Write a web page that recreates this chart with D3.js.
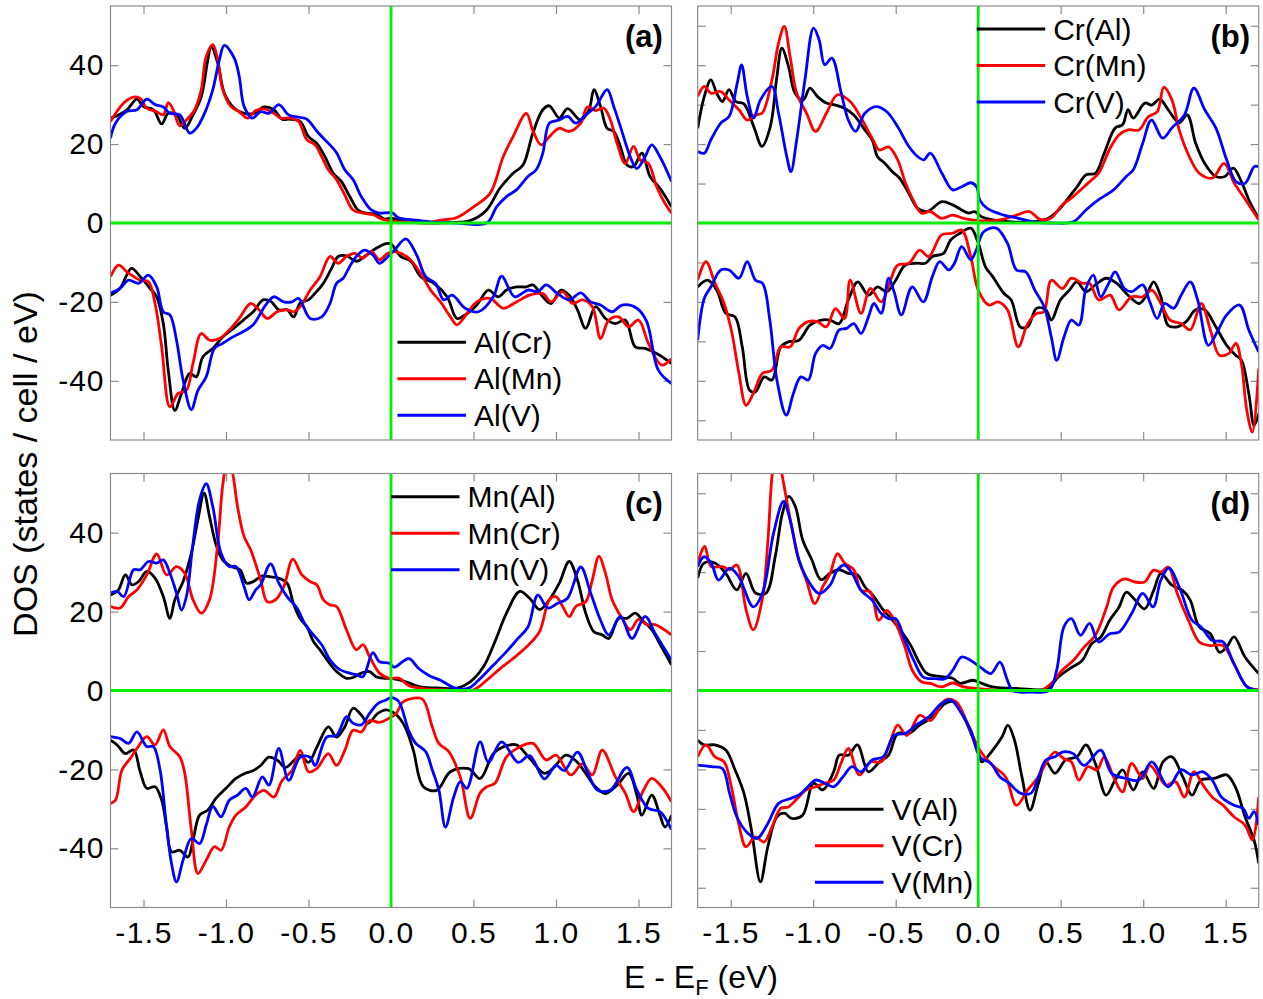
<!DOCTYPE html>
<html>
<head>
<meta charset="utf-8">
<script src="https://cdn.jsdelivr.net/npm/d3@7"></script>
<style>
  body { margin: 0; background: #fff; }
  svg { display: block; font-family: "Liberation Sans", Arial, sans-serif; }
</style>
</head>
<body>
<svg id="chart" width="1263" height="999"></svg>
<script>
"use strict";

// ---- data: [E - E_F (eV), DOS] ----

// (a) Al site
const alCrUp = [[-1.7,26.6],[-1.67,27],[-1.6,28.7],[-1.54,31.4],[-1.5,29.5],[-1.44,28.7],[-1.39,25.1],[-1.35,27.8],[-1.3,27.4],[-1.25,24],[-1.2,27.4],[-1.15,32],[-1.11,41.4],[-1.09,44.8],[-1.05,40.5],[-1.01,32.9],[-0.95,29.1],[-0.89,27.8],[-0.83,27.8],[-0.77,29.4],[-0.71,28.7],[-0.66,26.3],[-0.61,26.3],[-0.55,25.7],[-0.5,21.9],[-0.45,20.2],[-0.4,16.8],[-0.35,12.6],[-0.3,10.5],[-0.25,6.7],[-0.2,3.3],[-0.15,2.5],[-0.09,2.2],[-0.04,1],[0,1.2],[0.06,0.6],[0.135,0.3],[0.24,0],[0.36,0.1],[0.48,0.6],[0.58,3.3],[0.66,8.8],[0.74,12.6],[0.8,14.7],[0.86,22.8],[0.92,28.7],[0.96,29.7],[1.02,26.6],[1.07,29],[1.15,26.1],[1.2,28.7],[1.23,33.8],[1.27,29.5],[1.31,24],[1.35,23.2],[1.39,19.4],[1.43,14.7],[1.47,14.3],[1.52,17.7],[1.57,11.8],[1.63,8.8],[1.7,4.1]];
const alMnUp = [[-1.7,25.7],[-1.62,30.4],[-1.56,31.9],[-1.52,31.6],[-1.48,29.1],[-1.42,28.2],[-1.38,27.4],[-1.35,30.5],[-1.32,28.7],[-1.28,24.6],[-1.24,26.1],[-1.19,28.7],[-1.15,33.8],[-1.12,42.2],[-1.08,45.2],[-1.05,41.4],[-1.02,33.8],[-0.97,29.5],[-0.92,28.2],[-0.87,26.6],[-0.82,28.5],[-0.77,28.9],[-0.71,27.8],[-0.67,26.6],[-0.61,26.6],[-0.56,25.7],[-0.51,21.1],[-0.46,19.8],[-0.42,16.8],[-0.38,13.5],[-0.33,11],[-0.28,7.1],[-0.23,3.3],[-0.17,2.5],[-0.11,2.1],[-0.05,0.9],[0,0.5],[0.1,0.2],[0.2,0],[0.3,0.7],[0.4,1.4],[0.5,4.1],[0.6,7.5],[0.68,16.8],[0.74,21.9],[0.82,27.8],[0.86,23.4],[0.91,19.8],[0.96,21.9],[1.02,24],[1.08,23.2],[1.15,25.3],[1.19,29.4],[1.24,28.5],[1.29,29.1],[1.33,26.1],[1.37,20.2],[1.42,15.1],[1.47,19.4],[1.51,16],[1.56,15.1],[1.61,9.2],[1.66,5],[1.7,2.5]];
const alVUp = [[-1.7,21.5],[-1.67,25.3],[-1.6,28.3],[-1.54,28.7],[-1.48,31.4],[-1.43,30],[-1.38,29.4],[-1.34,27.8],[-1.28,27.4],[-1.22,22.8],[-1.18,24],[-1.13,27.8],[-1.08,33.8],[-1.04,41.4],[-1.01,45],[-0.95,41.8],[-0.92,37.2],[-0.89,29.5],[-0.84,26.6],[-0.79,28.2],[-0.74,27.8],[-0.68,30],[-0.62,27.4],[-0.56,26.8],[-0.51,26.3],[-0.44,22.8],[-0.37,19.8],[-0.33,17.8],[-0.28,13.5],[-0.23,11],[-0.18,6.7],[-0.12,3.3],[-0.07,2.5],[-0.02,2.6],[0.01,2.5],[0.045,1.3],[0.13,0.8],[0.24,0.3],[0.4,0],[0.58,0],[0.64,4.1],[0.7,6.7],[0.76,8.4],[0.83,11.8],[0.88,13.5],[0.92,17.7],[0.96,25.3],[1.02,26.1],[1.07,27],[1.12,25.3],[1.18,27.4],[1.24,29.5],[1.31,33.8],[1.35,29.5],[1.39,24.5],[1.45,16.8],[1.49,13.8],[1.54,16.8],[1.58,19.8],[1.63,16.8],[1.7,10.5]];
const alCrDn = [[-1.7,-18.3],[-1.643,-16.6],[-1.573,-11.5],[-1.52,-13.6],[-1.46,-16.6],[-1.42,-18.7],[-1.38,-25.5],[-1.35,-37.3],[-1.31,-47.5],[-1.27,-43.2],[-1.22,-38.1],[-1.18,-39],[-1.14,-33.9],[-1.08,-31.8],[-1.02,-28.9],[-0.955,-26.7],[-0.895,-24.6],[-0.835,-22.5],[-0.775,-19.5],[-0.73,-19.8],[-0.68,-22],[-0.63,-22],[-0.59,-23.8],[-0.55,-20.2],[-0.5,-19.5],[-0.46,-17.8],[-0.41,-15.3],[-0.36,-11.5],[-0.32,-8.5],[-0.27,-8.3],[-0.21,-9.7],[-0.16,-8.5],[-0.09,-6.4],[-0.03,-5.2],[0,-5.3],[0.06,-8.5],[0.12,-9.7],[0.18,-13.6],[0.26,-15.3],[0.34,-18.7],[0.4,-24.2],[0.46,-23],[0.52,-20.8],[0.59,-17],[0.65,-18.7],[0.7,-17],[0.76,-16.2],[0.82,-16.2],[0.86,-15.7],[0.92,-18.7],[0.97,-20.4],[1.03,-17],[1.08,-18.3],[1.13,-22],[1.18,-26.7],[1.24,-21.2],[1.3,-24.2],[1.36,-25.5],[1.42,-24.6],[1.48,-31.4],[1.54,-31.8],[1.61,-33.1],[1.7,-35.6]];
const alMnDn = [[-1.7,-13.6],[-1.65,-10.7],[-1.6,-12.4],[-1.52,-14.5],[-1.47,-14.9],[-1.43,-20.4],[-1.39,-31.4],[-1.34,-46.6],[-1.29,-43.2],[-1.24,-42.4],[-1.2,-35.6],[-1.15,-28],[-1.1,-29.7],[-1.04,-29.3],[-0.98,-27.1],[-0.92,-24.2],[-0.85,-20.4],[-0.8,-22],[-0.75,-24.2],[-0.69,-22.5],[-0.63,-22],[-0.59,-22.5],[-0.55,-21.2],[-0.49,-17],[-0.43,-13.6],[-0.37,-8.5],[-0.32,-10.2],[-0.27,-8.5],[-0.22,-7.7],[-0.17,-8.9],[-0.12,-7.2],[-0.07,-9.3],[-0.02,-7.7],[0.03,-7.3],[0.11,-9],[0.18,-12.8],[0.24,-17],[0.3,-20],[0.36,-23.8],[0.4,-25.8],[0.46,-23],[0.52,-20],[0.6,-19.1],[0.68,-21.6],[0.76,-20],[0.84,-18.3],[0.92,-17.9],[0.97,-20],[1.04,-17.4],[1.1,-20.4],[1.16,-19.5],[1.22,-21.2],[1.27,-29.3],[1.32,-24.6],[1.38,-23.8],[1.44,-26.3],[1.5,-24.6],[1.56,-30.5],[1.64,-36],[1.7,-34.4]];
const alVDn = [[-1.7,-17.8],[-1.643,-16.6],[-1.59,-14.5],[-1.53,-15.3],[-1.47,-13.2],[-1.42,-16.2],[-1.38,-22.5],[-1.34,-23.3],[-1.3,-29.7],[-1.26,-39.8],[-1.21,-47.3],[-1.17,-42.4],[-1.12,-39],[-1.07,-31.8],[-1.02,-30.5],[-0.955,-28.8],[-0.895,-27.5],[-0.835,-25.8],[-0.76,-20.8],[-0.71,-18.7],[-0.65,-20],[-0.6,-20],[-0.56,-19.1],[-0.49,-24.2],[-0.42,-23.8],[-0.37,-20.4],[-0.33,-15.3],[-0.29,-14],[-0.25,-11],[-0.21,-8.5],[-0.16,-6.9],[-0.11,-8.1],[-0.07,-10.2],[-0.03,-9],[0.02,-6.9],[0.09,-4],[0.155,-8.1],[0.21,-13.6],[0.27,-15.3],[0.32,-19.5],[0.37,-18.3],[0.45,-21.6],[0.53,-22.5],[0.62,-18.7],[0.67,-13.5],[0.75,-18.7],[0.83,-17],[0.89,-17.4],[0.94,-15.7],[1.01,-17.9],[1.08,-19.5],[1.15,-17.7],[1.21,-20],[1.27,-20.8],[1.34,-22.5],[1.4,-20.8],[1.49,-21.6],[1.55,-25],[1.62,-37.3],[1.7,-40.7]];

// (b) Cr site
const crAlUp = [[-1.7,24],[-1.66,32.1],[-1.62,36.3],[-1.585,32.9],[-1.55,30.8],[-1.51,33.8],[-1.47,30.8],[-1.42,30.2],[-1.36,24.4],[-1.31,19.4],[-1.26,24.4],[-1.22,37.1],[-1.19,44.3],[-1.15,39.7],[-1.11,32.9],[-1.06,31.2],[-1.02,34.2],[-0.975,32.1],[-0.92,30.4],[-0.865,29.9],[-0.81,29.1],[-0.754,27.4],[-0.687,23.6],[-0.643,21.1],[-0.61,16.8],[-0.565,15.1],[-0.52,13],[-0.477,11.4],[-0.42,7.5],[-0.366,3.7],[-0.31,2.9],[-0.22,5.4],[-0.155,4.6],[-0.1,3.3],[-0.056,2.5],[-0.022,2.9],[0.02,1.6],[0.09,0.8],[0.2,0.3],[0.33,0.3],[0.42,1.1],[0.487,3.3],[0.553,6.7],[0.6,9.2],[0.653,12.2],[0.71,12.6],[0.764,17.7],[0.83,24.1],[0.875,24.9],[0.908,28.7],[0.94,26.6],[1.01,30.4],[1.052,29.9],[1.1,31.4],[1.152,28.7],[1.218,25.4],[1.267,27.4],[1.318,20.2],[1.373,15.1],[1.44,11.8],[1.495,11.8],[1.546,13.9],[1.595,10.5],[1.64,5.9],[1.7,1.1]];
const crMnUp = [[-1.7,32.1],[-1.66,34.6],[-1.62,32.9],[-1.56,33.3],[-1.51,31.2],[-1.45,28.7],[-1.4,26.1],[-1.35,27.4],[-1.31,27.8],[-1.25,36.3],[-1.21,45.6],[-1.175,49.8],[-1.14,42.2],[-1.1,32.9],[-1.04,27.8],[-0.986,23.2],[-0.92,27.8],[-0.853,32.5],[-0.776,30.8],[-0.71,26.6],[-0.643,21.5],[-0.6,18.5],[-0.543,19.3],[-0.488,16],[-0.444,10.5],[-0.4,6.3],[-0.344,2.5],[-0.29,2.9],[-0.222,1.2],[-0.155,2],[-0.09,1.2],[0,0.6],[0.133,0.8],[0.232,2],[0.31,2.9],[0.376,0.9],[0.44,1.2],[0.51,4.6],[0.576,6.7],[0.642,9.2],[0.687,10.9],[0.73,12.6],[0.8,19],[0.853,22.3],[0.908,23.6],[0.975,23.6],[1.03,26.9],[1.085,28.2],[1.125,34.4],[1.174,31.2],[1.218,23.6],[1.274,17.3],[1.34,12.6],[1.42,11.4],[1.49,15.1],[1.552,10.1],[1.62,5.9],[1.7,0.8]];
const crVUp = [[-1.7,18.1],[-1.66,17.7],[-1.62,21.1],[-1.56,25.3],[-1.51,27],[-1.46,35.5],[-1.434,40.1],[-1.4,32.1],[-1.36,26.6],[-1.32,31.2],[-1.25,34.6],[-1.21,27.8],[-1.16,16.8],[-1.135,13],[-1.1,21.1],[-1.05,36.3],[-0.998,49.4],[-0.964,46.4],[-0.93,40.1],[-0.887,41.8],[-0.83,32.9],[-0.787,26.1],[-0.743,23.2],[-0.687,27.8],[-0.62,29.5],[-0.554,28.2],[-0.488,24.4],[-0.42,19.4],[-0.366,16.8],[-0.33,16],[-0.29,17.7],[-0.22,12.6],[-0.155,8.4],[-0.1,9.2],[-0.044,10.2],[-0.01,9.2],[0.01,5.8],[0.055,3.7],[0.155,2],[0.243,1.2],[0.33,0.3],[0.45,0],[0.576,0.3],[0.653,3.3],[0.73,5.9],[0.82,8.4],[0.897,11.8],[0.94,13.5],[0.997,20.2],[1.05,26.1],[1.118,21.5],[1.174,24.1],[1.25,27.4],[1.307,34.2],[1.373,28.7],[1.44,24.1],[1.506,16],[1.562,10.5],[1.618,10.1],[1.673,14.3],[1.7,14.3]];
const crAlDn = [[-1.7,-16.2],[-1.64,-14.5],[-1.585,-17],[-1.53,-22.9],[-1.474,-23.8],[-1.43,-31.4],[-1.385,-42.4],[-1.35,-42.8],[-1.297,-39],[-1.25,-39.8],[-1.197,-31.4],[-1.15,-30.1],[-1.086,-29.7],[-1.02,-25.9],[-0.953,-24.6],[-0.898,-24.6],[-0.843,-25.5],[-0.787,-19.5],[-0.73,-14.9],[-0.665,-18.3],[-0.61,-16.2],[-0.554,-17.4],[-0.5,-14.5],[-0.443,-10.7],[-0.377,-10.2],[-0.32,-10.2],[-0.278,-8.5],[-0.21,-7.7],[-0.167,-4.3],[-0.11,-2.6],[-0.045,-1.3],[0,-5],[0.044,-11.1],[0.088,-13.6],[0.155,-17.8],[0.2,-19.5],[0.254,-26.3],[0.3,-26.3],[0.354,-21.6],[0.41,-22],[0.443,-24.6],[0.498,-19.5],[0.553,-17],[0.598,-14.9],[0.653,-17.4],[0.71,-15.7],[0.775,-14],[0.84,-15.3],[0.908,-18.3],[0.975,-20.4],[1.02,-18.3],[1.063,-14.9],[1.107,-18.7],[1.15,-25.9],[1.207,-26.3],[1.26,-25],[1.318,-22],[1.373,-22],[1.44,-26.3],[1.506,-31],[1.56,-33.5],[1.595,-34.7],[1.64,-43.2],[1.672,-51.3],[1.7,-48.3]];
const crMnDn = [[-1.7,-14.5],[-1.65,-9.8],[-1.595,-15.3],[-1.54,-20.4],[-1.496,-27.2],[-1.45,-38.1],[-1.407,-46.2],[-1.363,-43.2],[-1.307,-38.1],[-1.25,-37.3],[-1.197,-31.4],[-1.14,-31.4],[-1.086,-26.7],[-1.03,-25],[-0.975,-25],[-0.92,-26.3],[-0.865,-21.7],[-0.81,-24.2],[-0.776,-14.5],[-0.71,-22.9],[-0.654,-16.6],[-0.588,-20],[-0.532,-14.5],[-0.488,-10.7],[-0.42,-10.2],[-0.355,-6.9],[-0.3,-8.5],[-0.222,-3],[-0.155,-2.6],[-0.1,-1.8],[-0.045,-8.5],[0,-17],[0.066,-20.8],[0.12,-20],[0.177,-22],[0.243,-31.4],[0.3,-25.5],[0.354,-22.9],[0.398,-22.5],[0.443,-14.5],[0.51,-16.6],[0.565,-14],[0.632,-15.3],[0.675,-15.3],[0.73,-19.5],[0.8,-18.3],[0.853,-22],[0.93,-18.7],[0.997,-18.7],[1.052,-17],[1.107,-20.4],[1.163,-24.6],[1.23,-25.5],[1.285,-27.1],[1.352,-20.4],[1.407,-27.1],[1.462,-33.5],[1.518,-33.1],[1.562,-30.5],[1.595,-35.6],[1.628,-47.5],[1.662,-53],[1.7,-36.9]];
const crVDn = [[-1.7,-29.7],[-1.66,-19.1],[-1.62,-16.2],[-1.56,-11.9],[-1.51,-11.9],[-1.45,-14],[-1.4,-9.8],[-1.35,-14.5],[-1.307,-15.3],[-1.263,-24.6],[-1.22,-39.8],[-1.163,-48.7],[-1.12,-43.2],[-1.075,-39],[-1.03,-39.8],[-0.986,-33.1],[-0.942,-31],[-0.898,-31.8],[-0.843,-27.1],[-0.798,-26.7],[-0.754,-25.5],[-0.71,-28],[-0.665,-23.8],[-0.632,-20.4],[-0.588,-22.9],[-0.543,-14],[-0.51,-17.4],[-0.466,-23.3],[-0.4,-16.2],[-0.333,-20],[-0.278,-13.6],[-0.233,-9.8],[-0.178,-11.9],[-0.144,-10.2],[-0.1,-6],[-0.045,-9.3],[-0.012,-6.9],[0.033,-2.2],[0.11,-1.3],[0.177,-5.1],[0.232,-11.9],[0.288,-12.4],[0.343,-17],[0.4,-21.2],[0.443,-28.9],[0.476,-34.8],[0.52,-28.9],[0.565,-24.6],[0.61,-25.9],[0.653,-16.6],[0.698,-13.2],[0.742,-18.7],[0.786,-15.7],[0.83,-12.4],[0.886,-16.6],[0.93,-17.4],[0.997,-15.7],[1.04,-20],[1.085,-24.2],[1.13,-20.4],[1.185,-21.6],[1.23,-18.3],[1.285,-14.9],[1.33,-19.5],[1.395,-31],[1.45,-27.5],[1.506,-23.3],[1.584,-20.8],[1.64,-27.1],[1.7,-32.7]];

// (c) Mn site
const mnAlUp = [[-1.7,24.2],[-1.652,25.5],[-1.61,29.3],[-1.57,26.8],[-1.53,27.6],[-1.48,30.2],[-1.43,28.5],[-1.38,23.8],[-1.34,18.3],[-1.31,23],[-1.26,27.6],[-1.21,34.8],[-1.17,43.3],[-1.133,50],[-1.1,44.1],[-1.06,36.9],[-1.02,33.1],[-0.965,31.4],[-0.915,30.6],[-0.875,27.2],[-0.835,27.6],[-0.784,29],[-0.73,28.8],[-0.683,28.5],[-0.63,27.2],[-0.592,22.1],[-0.552,18.3],[-0.51,16.2],[-0.47,12.4],[-0.43,10.3],[-0.38,7.3],[-0.33,4.8],[-0.27,3.1],[-0.23,3.3],[-0.18,4.4],[-0.13,4.8],[-0.09,3.5],[-0.04,3.1],[0.01,3],[0.09,2.2],[0.17,1],[0.3,0.6],[0.4,0.6],[0.48,2.2],[0.56,6],[0.63,12.4],[0.7,19.6],[0.78,25.1],[0.84,23.4],[0.9,20.5],[0.96,23],[1.02,27.2],[1.08,32.7],[1.13,28],[1.18,19.6],[1.23,14.9],[1.28,14.1],[1.32,13.2],[1.38,18.3],[1.43,18.3],[1.48,19.6],[1.53,17.5],[1.58,15.4],[1.64,11],[1.7,6.5]];
const mnCrUp = [[-1.7,21.3],[-1.643,20.9],[-1.59,23.8],[-1.54,25.5],[-1.48,29.3],[-1.42,34.6],[-1.36,29.3],[-1.3,31.4],[-1.25,29.7],[-1.2,23],[-1.15,19.6],[-1.1,23],[-1.05,37.3],[-1.02,52],[-0.985,60],[-0.955,54],[-0.93,46.6],[-0.89,39],[-0.85,35.6],[-0.79,28],[-0.75,22.5],[-0.7,23],[-0.65,26.3],[-0.595,33.3],[-0.54,29.3],[-0.49,27.6],[-0.45,26.8],[-0.41,23],[-0.37,21.7],[-0.33,21.3],[-0.27,15.4],[-0.21,10.3],[-0.17,11.6],[-0.13,8.6],[-0.07,4.4],[-0.01,3.1],[0.05,3.1],[0.11,1.2],[0.2,0.5],[0.3,0.2],[0.5,0.2],[0.58,2.6],[0.66,5.5],[0.74,8.1],[0.82,11],[0.9,14.9],[0.96,23],[1,23.8],[1.04,21.3],[1.08,18.7],[1.12,21.3],[1.18,22.5],[1.22,28],[1.26,34],[1.3,29.7],[1.34,23],[1.4,18.3],[1.45,15.4],[1.5,18],[1.55,16.7],[1.6,16.7],[1.7,14.1]];
const mnVUp = [[-1.7,24.7],[-1.66,25.1],[-1.62,23.8],[-1.56,30.6],[-1.52,30.6],[-1.47,32.7],[-1.42,32.3],[-1.38,33.1],[-1.34,29.7],[-1.3,24.7],[-1.27,20.4],[-1.24,23.8],[-1.2,37.3],[-1.16,48.4],[-1.12,52.4],[-1.08,46.6],[-1.03,34.8],[-0.98,31.4],[-0.94,31.4],[-0.89,26.3],[-0.86,23],[-0.82,25.5],[-0.79,26.8],[-0.73,32.1],[-0.68,27.2],[-0.63,23.8],[-0.57,20.9],[-0.52,16.7],[-0.47,14.1],[-0.42,11.6],[-0.37,7.8],[-0.31,5.3],[-0.25,4.4],[-0.21,4],[-0.17,3.5],[-0.11,9.6],[-0.07,7.3],[-0.01,6.9],[0.02,5.9],[0.07,7.3],[0.11,8.1],[0.17,5.5],[0.23,3.8],[0.3,2.6],[0.39,0.6],[0.47,0.6],[0.53,2.6],[0.61,6],[0.69,9.4],[0.77,13.2],[0.83,16.1],[0.89,24.2],[0.95,20.9],[1.01,22.1],[1.07,23.4],[1.15,31.3],[1.21,24.7],[1.27,17.8],[1.32,14.1],[1.39,18.8],[1.46,13.2],[1.54,18.8],[1.6,14.5],[1.7,7.7]];
const mnAlDn = [[-1.7,-12.6],[-1.66,-13.8],[-1.61,-16],[-1.56,-15.1],[-1.52,-20.6],[-1.48,-24.8],[-1.43,-24.4],[-1.39,-27.8],[-1.36,-34.6],[-1.33,-40.9],[-1.28,-40.5],[-1.23,-42.2],[-1.2,-38],[-1.16,-31.6],[-1.11,-30.3],[-1.06,-27.3],[-1,-24.8],[-0.94,-22.3],[-0.88,-20.9],[-0.84,-20.4],[-0.79,-19],[-0.74,-16.9],[-0.69,-17.6],[-0.64,-19.5],[-0.59,-17.8],[-0.55,-16.4],[-0.5,-18.2],[-0.45,-14.4],[-0.38,-9.2],[-0.33,-11.8],[-0.28,-9.2],[-0.23,-4.5],[-0.18,-6.2],[-0.14,-8.3],[-0.08,-5.8],[-0.03,-4.9],[0.034,-6.2],[0.085,-9.2],[0.135,-15.1],[0.196,-24.4],[0.277,-25.3],[0.36,-20.6],[0.47,-19.8],[0.54,-22.3],[0.62,-16],[0.68,-14.3],[0.76,-13.8],[0.84,-17.2],[0.93,-21],[0.98,-19.8],[1.06,-16.4],[1.12,-17.8],[1.18,-21],[1.23,-24],[1.3,-26.1],[1.37,-24],[1.44,-21],[1.49,-26.5],[1.52,-31.6],[1.58,-26.5],[1.63,-31.6],[1.66,-34.6],[1.7,-31.6]];
const mnCrDn = [[-1.7,-28.6],[-1.67,-27.8],[-1.63,-20.1],[-1.58,-17.2],[-1.54,-14.7],[-1.48,-11.7],[-1.43,-13.8],[-1.38,-10],[-1.34,-14.2],[-1.28,-16.8],[-1.25,-21],[-1.21,-35.4],[-1.17,-46.4],[-1.12,-43],[-1.07,-39.6],[-1.03,-40.5],[-0.98,-34.6],[-0.94,-31.6],[-0.88,-29.5],[-0.82,-26.5],[-0.77,-25.3],[-0.71,-27],[-0.66,-22.8],[-0.6,-20.3],[-0.55,-15.2],[-0.5,-20.6],[-0.45,-19.8],[-0.38,-16],[-0.33,-19],[-0.28,-15.2],[-0.23,-10.1],[-0.18,-10.5],[-0.13,-7.6],[-0.07,-8.1],[-0.02,-7.2],[0.03,-5.9],[0.07,-3],[0.11,-2.2],[0.19,-2.2],[0.25,-9.2],[0.29,-13.4],[0.35,-15.5],[0.42,-21.9],[0.48,-32.4],[0.54,-26],[0.58,-24.4],[0.63,-23.5],[0.7,-16.8],[0.78,-14.3],[0.86,-13.4],[0.94,-17.6],[1,-16.4],[1.09,-21.4],[1.16,-18.6],[1.22,-21.4],[1.28,-15.1],[1.36,-21.9],[1.42,-26],[1.47,-30.7],[1.53,-25.3],[1.58,-22.3],[1.64,-24.4],[1.7,-28.2]];
const mnVDn = [[-1.7,-11.7],[-1.64,-12.2],[-1.59,-13.4],[-1.54,-10.5],[-1.48,-14.2],[-1.44,-14.2],[-1.4,-20.1],[-1.36,-34.6],[-1.33,-43.9],[-1.3,-48.5],[-1.26,-43],[-1.21,-37.5],[-1.16,-38.8],[-1.12,-34.1],[-1.08,-29.4],[-1.03,-32],[-0.98,-27.8],[-0.93,-26.5],[-0.88,-24.8],[-0.84,-27],[-0.78,-21.9],[-0.74,-24],[-0.68,-14.7],[-0.62,-22.8],[-0.55,-16.9],[-0.49,-16.9],[-0.46,-19],[-0.39,-11.8],[-0.33,-11.4],[-0.27,-6.6],[-0.23,-8.3],[-0.18,-8.7],[-0.13,-5.8],[-0.08,-3.3],[-0.03,-2.4],[0,-1.8],[0.045,-2.7],[0.11,-10.5],[0.15,-13.4],[0.21,-15.5],[0.25,-20.1],[0.29,-25.2],[0.33,-34.6],[0.38,-27],[0.42,-23.1],[0.46,-24.8],[0.54,-13],[0.59,-18.2],[0.67,-13],[0.77,-18.2],[0.84,-16.5],[0.93,-22.4],[1,-19],[1.05,-20.3],[1.13,-15.6],[1.19,-20.6],[1.25,-25.2],[1.33,-25.2],[1.43,-19.5],[1.49,-25.2],[1.56,-29.9],[1.63,-30.7],[1.7,-35.3]];

// (d) V site
const vAlUp = [[-1.7,28.5],[-1.662,32.3],[-1.596,32.3],[-1.53,29.7],[-1.463,25.5],[-1.407,29.7],[-1.35,24.7],[-1.286,24.7],[-1.23,34],[-1.186,45],[-1.148,49.2],[-1.108,46.6],[-1.064,38.2],[-1.009,33.2],[-0.953,28.1],[-0.898,29.7],[-0.842,30.6],[-0.787,29.7],[-0.732,29.3],[-0.687,26.3],[-0.632,23.8],[-0.577,20.5],[-0.521,17.9],[-0.466,15],[-0.41,11.5],[-0.355,6.9],[-0.31,4.3],[-0.222,3.5],[-0.155,3.1],[-0.111,1.8],[-0.034,2.6],[0.022,1.8],[0.088,0.9],[0.243,0.5],[0.42,0.5],[0.487,3.5],[0.553,5.5],[0.63,7.6],[0.687,11.8],[0.742,13.5],[0.797,17.8],[0.853,21.1],[0.897,24.9],[0.952,22.9],[1.008,20.7],[1.063,25.3],[1.107,29.6],[1.174,26.7],[1.24,25.3],[1.285,22.9],[1.34,16.1],[1.407,14.4],[1.462,9.7],[1.506,11],[1.55,13.6],[1.617,8.5],[1.7,4.3]];
const vCrUp = [[-1.7,32.3],[-1.658,36.5],[-1.618,31.4],[-1.55,31.4],[-1.507,30.6],[-1.463,31.8],[-1.407,20.5],[-1.363,15.4],[-1.308,23.3],[-1.275,37.6],[-1.248,55],[-1.22,62],[-1.19,55],[-1.16,48],[-1.13,41.5],[-1.086,33],[-1.042,28],[-0.99,22],[-0.942,26.3],[-0.898,29.6],[-0.853,34.7],[-0.81,32.3],[-0.754,30.6],[-0.71,25.4],[-0.654,25],[-0.603,17.8],[-0.554,20.3],[-0.5,17],[-0.444,11],[-0.4,5.2],[-0.344,2.2],[-0.29,1.8],[-0.222,0.9],[-0.155,1.9],[-0.09,0.9],[0,0.5],[0.177,0],[0.376,0],[0.443,1.8],[0.51,5.2],[0.576,7.6],[0.642,11],[0.71,14],[0.775,20.7],[0.82,26.2],[0.886,28.3],[0.952,27.5],[1.008,27.5],[1.063,30.5],[1.107,30],[1.152,31.3],[1.207,24.5],[1.274,17.8],[1.34,12.3],[1.407,11.4],[1.484,11.4],[1.55,6.8],[1.63,0.9],[1.7,0.2]];
const vMnUp = [[-1.7,31.4],[-1.662,33.9],[-1.618,32.3],[-1.574,28],[-1.507,31],[-1.452,28.9],[-1.363,21.2],[-1.308,24.6],[-1.24,39.9],[-1.18,47.9],[-1.14,43.2],[-1.086,33],[-1.02,27.1],[-0.964,24.6],[-0.898,26.7],[-0.853,30.6],[-0.81,31.8],[-0.765,29.7],[-0.71,25.4],[-0.643,22.9],[-0.588,19.5],[-0.543,18.2],[-0.5,18.2],[-0.444,12.7],[-0.39,7.6],[-0.333,3.4],[-0.266,3],[-0.2,3],[-0.155,5.1],[-0.1,8.5],[-0.045,7.6],[0.01,6],[0.077,4.3],[0.132,7.2],[0.177,2.6],[0.21,0],[0.33,-0.4],[0.43,0],[0.476,5.2],[0.52,16.2],[0.565,18.2],[0.62,14],[0.675,17],[0.73,12.3],[0.797,14.4],[0.853,14.8],[0.93,19.5],[0.997,24.6],[1.06,21.2],[1.107,28],[1.156,31],[1.218,26.3],[1.296,17.8],[1.351,16.1],[1.418,12.7],[1.484,12.3],[1.55,6.8],[1.63,0.9],[1.7,0]];
const vAlDn = [[-1.7,-12.6],[-1.662,-13.8],[-1.596,-13.8],[-1.53,-15.1],[-1.474,-20.1],[-1.42,-26],[-1.374,-35.4],[-1.32,-48.5],[-1.275,-39.6],[-1.22,-32],[-1.175,-31.1],[-1.13,-32.4],[-1.064,-31.6],[-0.998,-23.5],[-0.942,-25.2],[-0.876,-20.6],[-0.842,-16.4],[-0.787,-16.4],[-0.732,-13.8],[-0.665,-20.6],[-0.598,-18.1],[-0.543,-16.4],[-0.488,-10.9],[-0.42,-10.9],[-0.355,-8.8],[-0.277,-6.7],[-0.2,-3.3],[-0.144,-2.9],[-0.078,-7.5],[0,-15.6],[0.022,-18.1],[0.088,-15.1],[0.144,-11.8],[0.18,-8.8],[0.22,-12.6],[0.265,-21.9],[0.314,-30.3],[0.365,-23.5],[0.41,-18.1],[0.465,-21],[0.53,-17.6],[0.598,-16.8],[0.653,-13.8],[0.71,-18.5],[0.775,-26.5],[0.83,-22.7],[0.875,-20.1],[0.94,-25.2],[0.997,-20.6],[1.063,-24.8],[1.12,-18.1],[1.174,-16.8],[1.24,-21.9],[1.296,-26.5],[1.35,-22.7],[1.43,-22.3],[1.506,-21.4],[1.562,-24.8],[1.617,-32],[1.672,-37.9],[1.7,-43.8]];
const vCrDn = [[-1.7,-16.8],[-1.65,-13.8],[-1.596,-16.8],[-1.54,-18.1],[-1.496,-24.4],[-1.452,-33.7],[-1.407,-39.6],[-1.352,-37.1],[-1.297,-38.4],[-1.25,-34.6],[-1.197,-29.9],[-1.15,-29.5],[-1.097,-27.4],[-1.042,-25.2],[-0.986,-24.4],[-0.93,-23.5],[-0.876,-22.7],[-0.832,-18.5],[-0.787,-14.7],[-0.72,-21.4],[-0.654,-18.1],[-0.588,-18.1],[-0.543,-14.3],[-0.488,-8.8],[-0.432,-11.4],[-0.355,-6.3],[-0.288,-7.6],[-0.2,-2.4],[-0.133,-2.9],[-0.056,-9.3],[0.011,-15.2],[0.088,-19],[0.166,-21.9],[0.232,-29.1],[0.3,-25.2],[0.365,-21.9],[0.41,-18.5],[0.465,-15.6],[0.52,-17.3],[0.565,-18.1],[0.61,-22.7],[0.665,-19.3],[0.72,-20.1],[0.764,-16.8],[0.82,-21.9],[0.875,-25.7],[0.93,-18.5],[0.997,-22.3],[1.04,-19],[1.096,-21.9],[1.14,-24],[1.196,-23.1],[1.25,-27],[1.307,-20.6],[1.363,-24],[1.418,-27],[1.484,-29.1],[1.55,-32],[1.617,-34.1],[1.662,-37.9],[1.7,-27]];
const vMnDn = [[-1.7,-18.9],[-1.618,-19.3],[-1.55,-19.8],[-1.507,-26],[-1.463,-32],[-1.396,-36.2],[-1.34,-37.5],[-1.275,-33.7],[-1.21,-28.6],[-1.14,-27.4],[-1.086,-26.5],[-1.042,-24.8],[-0.986,-22.7],[-0.93,-23.5],[-0.876,-24.4],[-0.82,-21.9],[-0.765,-19.3],[-0.71,-20.6],[-0.643,-17.6],[-0.576,-16.8],[-0.51,-11.4],[-0.443,-10.9],[-0.377,-8.8],[-0.3,-6.7],[-0.222,-3.3],[-0.167,-2.4],[-0.1,-5.9],[-0.045,-10.1],[0.011,-16.9],[0.077,-18.5],[0.132,-21.9],[0.188,-23.5],[0.254,-26],[0.32,-26],[0.365,-21.9],[0.41,-17.6],[0.465,-16.8],[0.51,-15.6],[0.576,-16],[0.642,-19],[0.742,-15.1],[0.809,-21],[0.897,-22.3],[0.975,-22.7],[1.052,-18.1],[1.152,-24.4],[1.23,-20.1],[1.296,-21.4],[1.363,-20.6],[1.418,-22.7],[1.474,-27],[1.55,-29.1],[1.606,-29.9],[1.64,-32.4],[1.672,-30.7],[1.7,-34.1]];

// legend names and tick values
const namesA = ["Al(Cr)", "Al(Mn)", "Al(V)"];
const namesB = ["Cr(Al)", "Cr(Mn)", "Cr(V)"];
const namesC = ["Mn(Al)", "Mn(Cr)", "Mn(V)"];
const namesD = ["V(Al)", "V(Cr)", "V(Mn)"];
const xTicks = [-1.5, -1.0, -0.5, 0.0, 0.5, 1.0, 1.5];
const yTicksMajor = [-40, -20, 0, 20, 40];
const yTicksMinor = [-50, -40, -30, -20, -10, 0, 10, 20, 30, 40, 50];

// ---- layout ----
const colors = ["#000000", "#ff0000", "#0000ff"];
const green = "#00f000";
const W = 561, H = 434;

const panels = [
    { tag: "(a)", left: 110.5, top: 6,     names: namesA, up: [alCrUp, alMnUp, alVUp], dn: [alCrDn, alMnDn, alVDn], legend: [287, 336.3], yLab: true,  xLab: false },
    { tag: "(b)", left: 697.7, top: 6,     names: namesB, up: [crAlUp, crMnUp, crVUp], dn: [crAlDn, crMnDn, crVDn], legend: [279, 23],    yLab: false, xLab: false },
    { tag: "(c)", left: 110.5, top: 473.5, names: namesC, up: [mnAlUp, mnCrUp, mnVUp], dn: [mnAlDn, mnCrDn, mnVDn], legend: [280.5, 23.2], yLab: true,  xLab: true },
    { tag: "(d)", left: 697.7, top: 473.5, names: namesD, up: [vAlUp, vCrUp, vMnUp],   dn: [vAlDn, vCrDn, vMnDn],   legend: [117.3, 335.8], yLab: false, xLab: true }
];

const svg = d3.select("#chart");

const x = d3.scaleLinear().domain([-1.7, 1.7]).range([0, W]);
const y = d3.scaleLinear().domain([-55, 55]).range([H, 0]);

// plain hyphen for negative numbers, like the original figure
const fmtX = d => d3.format(".1f")(d).replace("\u2212", "-");
const fmtY = d => String(d);

const line = d3.line()
    .x(d => x(d[0]))
    .y(d => y(d[1]))
    .curve(d3.curveCatmullRom.alpha(0.5));

panels.forEach((p, i) => {
    const g = svg.append("g").attr("transform", `translate(${p.left},${p.top})`);

    // clip curves to the frame
    g.append("clipPath").attr("id", "clip" + i)
        .append("rect").attr("width", W).attr("height", H);

    // inward ticks on all four sides
    const yVals = p.yLab ? yTicksMajor : yTicksMinor;
    const tickAxes = [
        [d3.axisBottom(x).tickValues(xTicks), `translate(0,${H})`],
        [d3.axisTop(x).tickValues(xTicks), "translate(0,0)"],
        [d3.axisLeft(y).tickValues(yVals), "translate(0,0)"],
        [d3.axisRight(y).tickValues(yVals), `translate(${W},0)`]
    ];
    tickAxes.forEach(([ax, tr]) => {
        const a = g.append("g").attr("transform", tr)
            .call(ax.tickSize(-8).tickFormat(""));
        a.select(".domain").remove();
        a.selectAll("line").attr("stroke", "#8c8c8c").attr("stroke-width", 1.2);
    });

    // tick labels
    if (p.yLab) {
        const a = g.append("g")
            .call(d3.axisLeft(y).tickValues(yTicksMajor).tickFormat(fmtY).tickSize(0).tickPadding(6));
        a.select(".domain").remove();
        a.selectAll("text").attr("font-size", 30).attr("fill", "#000")
            .attr("font-family", "Liberation Sans, Arial, sans-serif")
            .style("letter-spacing", "1px");
    }
    if (p.xLab) {
        const a = g.append("g").attr("transform", `translate(0,${H})`)
            .call(d3.axisBottom(x).tickValues(xTicks).tickFormat(fmtX).tickSize(0).tickPadding(14));
        a.select(".domain").remove();
        a.selectAll("text").attr("font-size", 30).attr("fill", "#000")
            .attr("font-family", "Liberation Sans, Arial, sans-serif")
            .style("letter-spacing", "1.5px");
    }

    // DOS curves, spin up and spin down
    const curves = g.append("g").attr("clip-path", `url(#clip${i})`);
    [p.up, p.dn].forEach(set => {
        set.forEach((s, k) => {
            curves.append("path")
                .datum(s)
                .attr("d", line)
                .attr("fill", "none")
                .attr("stroke", colors[k])
                .attr("stroke-width", 2.8)
                .attr("stroke-linejoin", "round");
        });
    });

    // E_F and zero lines
    g.append("line").attr("x1", 0).attr("x2", W).attr("y1", y(0)).attr("y2", y(0))
        .attr("stroke", green).attr("stroke-width", 3);
    g.append("line").attr("x1", x(0)).attr("x2", x(0)).attr("y1", 0).attr("y2", H)
        .attr("stroke", green).attr("stroke-width", 2.8);

    // frame
    g.append("rect").attr("width", W).attr("height", H)
        .attr("fill", "none").attr("stroke", "#8c8c8c").attr("stroke-width", 1.2);

    // legend
    const lg = g.append("g").attr("transform", `translate(${p.legend[0]},${p.legend[1]})`);
    p.names.forEach((n, k) => {
        const ly = k * 36.5;
        lg.append("line").attr("x1", 0).attr("x2", 68.5).attr("y1", ly).attr("y2", ly)
            .attr("stroke", colors[k]).attr("stroke-width", 3);
        lg.append("text").attr("x", 76.5).attr("y", ly).attr("dy", "0.35em")
            .attr("font-size", 30).text(n);
    });

    // panel tag
    g.append("text").attr("x", W - 8.7).attr("y", 40.5)
        .attr("text-anchor", "end").attr("font-size", 31).attr("font-weight", "bold")
        .text(p.tag);
});

// axis titles
svg.append("text")
    .attr("transform", "translate(37,464) rotate(-90)")
    .attr("text-anchor", "middle").attr("font-size", 34)
    .text("DOS (states / cell / eV)");

const xt = svg.append("text").attr("x", 624).attr("y", 988).attr("font-size", 32);
xt.append("tspan").text("E - E");
xt.append("tspan").attr("font-size", 22).attr("dy", 7).text("F");
xt.append("tspan").attr("dy", -7).text(" (eV)");
</script>
</body>
</html>
